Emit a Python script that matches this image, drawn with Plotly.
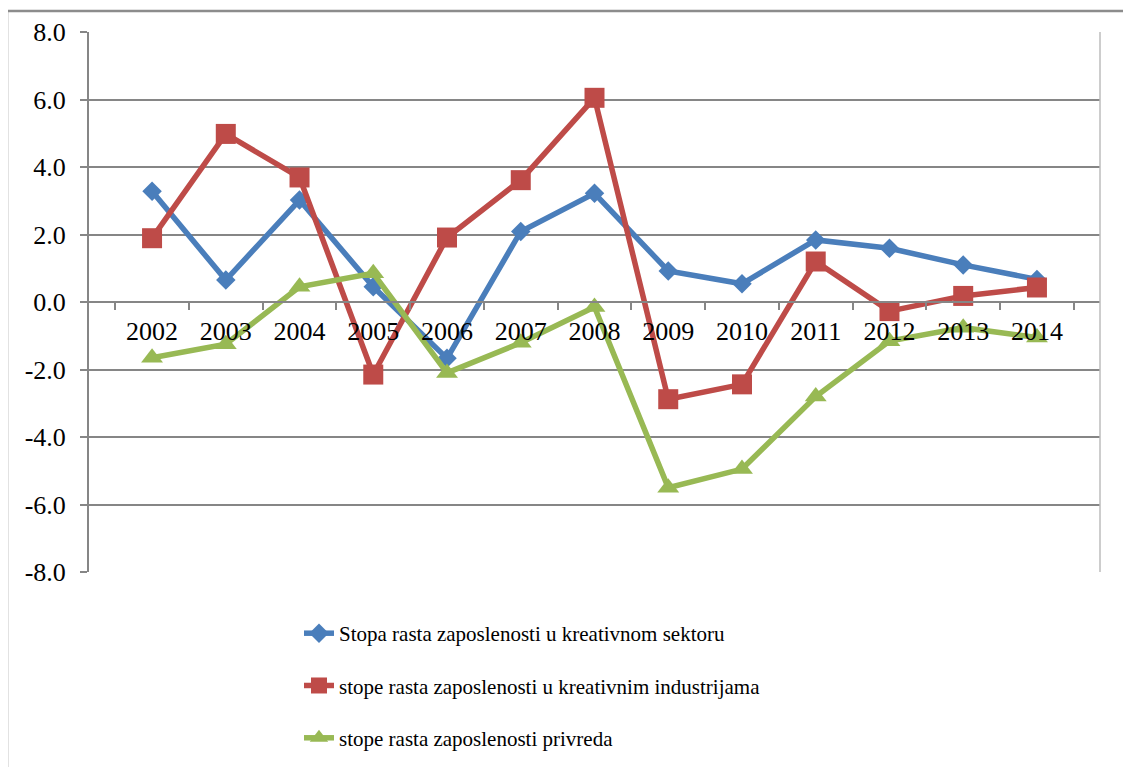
import plotly.graph_objects as go

years = ["2002", "2003", "2004", "2005", "2006", "2007", "2008",
         "2009", "2010", "2011", "2012", "2013", "2014"]

kreativni_sektor = [3.28, 0.65, 3.02, 0.45, -1.67, 2.09, 3.22,
                    0.92, 0.54, 1.84, 1.59, 1.10, 0.67]
kreativne_industrije = [1.89, 4.98, 3.69, -2.15, 1.91, 3.61, 6.05,
                        -2.88, -2.44, 1.20, -0.27, 0.18, 0.43]
privreda = [-1.65, -1.25, 0.45, 0.85, -2.10, -1.21, -0.15,
            -5.50, -4.95, -2.80, -1.16, -0.76, -1.05]

y_ticks = [-8, -6, -4, -2, 0, 2, 4, 6, 8]
y_tick_labels = ["-8.0", "-6.0", "-4.0", "-2.0", "0.0", "2.0", "4.0", "6.0", "8.0"]

names = [
    "Stopa rasta zaposlenosti u kreativnom sektoru",
    "stope rasta zaposlenosti u kreativnim industrijama",
    "stope rasta zaposlenosti privreda",
]

FONT = "Liberation Serif, Times New Roman, serif"
GRID = "#868686"

fig = go.Figure()

series = [
    (kreativni_sektor, "#4A7EBB", "diamond", 15),
    (kreativne_industrije, "#BE4B48", "square", 20),
    (privreda, "#98B954", "triangle-up", 19),
]
for (values, color, symbol, size), name in zip(series, names):
    fig.add_trace(go.Scatter(
        x=years,
        y=values,
        name=name,
        legendgroup=name,
        mode="lines+markers",
        line={"color": color, "width": 5.5},
        marker={"symbol": symbol, "size": size, "color": color},
    ))

# outer chart frame (left and top edges) and plot-area right edge
left = (7 - 89) / 1011
top = (572 - 11) / 540
fig.add_shape(type="line", xref="paper", yref="paper", x0=left, x1=left,
              y0=-0.4, y1=top, line={"color": "#8C8C8C", "width": 2.5})
fig.add_shape(type="line", xref="paper", yref="paper", x0=left, x1=1.05,
              y0=top, y1=top, line={"color": "#8C8C8C", "width": 2.5})
fig.add_shape(type="line", xref="paper", yref="paper", x0=1, x1=1,
              y0=0, y1=1, line={"color": "#BDBDBD", "width": 1.5})

# the page body adds an 8px offset, so margins are shifted to compensate
fig.update_layout(
    width=1131,
    height=767,
    margin={"l": 81, "r": 39, "t": 24, "b": 203, "autoexpand": False},
    plot_bgcolor="white",
    paper_bgcolor="white",
    font={"family": FONT, "size": 26, "color": "black"},
    showlegend=True,
    legend={
        "x": 0.2077, "y": -0.076, "xanchor": "left", "yanchor": "top",
        "font": {"family": FONT, "size": 21},
        "traceorder": "grouped", "tracegroupgap": 22,
        "bgcolor": "rgba(0,0,0,0)",
    },
    xaxis={
        "type": "category",
        "anchor": "free",
        "position": 0.5,
        "showgrid": False,
        "showline": True,
        "linecolor": GRID,
        "linewidth": 2,
        "ticks": "outside",
        "tickson": "boundaries",
        "ticklen": 7,
        "tickwidth": 2,
        "tickcolor": GRID,
        "ticklabelstandoff": 6,
        "zeroline": False,
    },
    yaxis={
        "range": [-8, 8],
        "tickvals": y_ticks,
        "ticktext": y_tick_labels,
        "showgrid": True,
        "gridcolor": GRID,
        "gridwidth": 2,
        "zeroline": False,
        "showline": True,
        "linecolor": GRID,
        "linewidth": 2,
        "ticks": "outside",
        "ticklen": 7,
        "tickwidth": 2,
        "tickcolor": GRID,
        "ticklabelstandoff": 9,
    },
)

fig.write_html("out.html")
